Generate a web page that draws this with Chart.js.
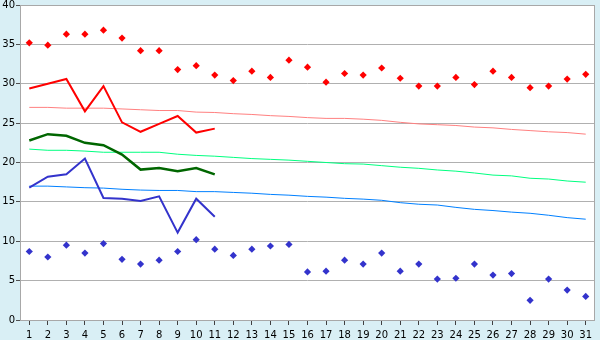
<!DOCTYPE html>
<html>
<head>
<meta charset="utf-8">
<script src="https://cdn.jsdelivr.net/npm/chart.js@4.4.1/dist/chart.umd.min.js"></script>
<style>
  html, body { margin: 0; padding: 0; background: #d9eff5; }
  canvas { display: block; }
</style>
</head>
<body>
<canvas id="chart" width="600" height="340"></canvas>
<script>
const days = ['1','2','3','4','5','6','7','8','9','10','11','12','13','14','15','16',
              '17','18','19','20','21','22','23','24','25','26','27','28','29','30','31'];
const yTicks = [0, 5, 10, 15, 20, 25, 30, 35, 40];

// record highs / lows (diamonds)
const recordHigh = [35.2, 34.9, 36.3, 36.3, 36.8, 35.8, 34.2, 34.2, 31.8, 32.3, 31.1,
                    30.4, 31.6, 30.8, 33.0, 32.1, 30.2, 31.3, 31.1, 32.0, 30.7, 29.7,
                    29.7, 30.8, 29.9, 31.6, 30.8, 29.5, 29.7, 30.6, 31.2];
const recordLow = [8.7, 8.0, 9.5, 8.5, 9.7, 7.7, 7.1, 7.6, 8.7, 10.2, 9.0,
                   8.2, 9.0, 9.4, 9.6, 6.1, 6.2, 7.6, 7.1, 8.5, 6.2, 7.1,
                   5.2, 5.3, 7.1, 5.7, 5.9, 2.5, 5.2, 3.8, 3.0];

// this month so far
const dayMax  = [29.4, 30.0, 30.6, 26.5, 29.7, 25.1, 23.9, 24.9, 25.9, 23.8, 24.3];
const dayMean = [22.8, 23.6, 23.4, 22.5, 22.2, 21.0, 19.1, 19.3, 18.9, 19.3, 18.5];
const dayMin  = [16.8, 18.2, 18.5, 20.5, 15.5, 15.4, 15.1, 15.7, 11.1, 15.4, 13.1];

// normals
const normalMax = [27.0, 27.0, 26.9, 26.9, 26.9, 26.8, 26.7, 26.6, 26.6, 26.4, 26.35,
                   26.2, 26.1, 25.95, 25.85, 25.7, 25.6, 25.6, 25.5, 25.35, 25.1, 24.9,
                   24.8, 24.7, 24.5, 24.4, 24.2, 24.05, 23.9, 23.8, 23.6];
const normalMean = [21.7, 21.55, 21.55, 21.45, 21.3, 21.3, 21.3, 21.3, 21.05, 20.9, 20.8,
                    20.65, 20.5, 20.4, 20.3, 20.15, 20.0, 19.85, 19.8, 19.6, 19.4, 19.26,
                    19.05, 18.9, 18.67, 18.4, 18.3, 18.0, 17.9, 17.65, 17.5];
const normalMin = [17.0, 17.0, 16.9, 16.8, 16.75, 16.6, 16.5, 16.45, 16.45, 16.3, 16.3,
                   16.2, 16.1, 15.95, 15.85, 15.7, 15.6, 15.45, 15.35, 15.2, 14.9, 14.7,
                   14.6, 14.3, 14.05, 13.9, 13.7, 13.55, 13.3, 13.0, 12.8];

const bgPlugin = {
    id: 'bg',
    beforeDraw(chart) {
        const { ctx, chartArea: a } = chart;
        ctx.save();
        ctx.fillStyle = '#d9eff5';
        ctx.fillRect(0, 0, chart.width, chart.height);
        ctx.fillStyle = '#ffffff';
        ctx.fillRect(a.left, a.top, a.right - a.left, a.bottom - a.top);
        ctx.restore();
    },
    beforeDatasetsDraw(chart) {
        const { ctx, chartArea: a } = chart;
        ctx.save();
        ctx.strokeStyle = '#a8a8a8';
        ctx.lineWidth = 1;
        ctx.strokeRect(a.left + 0.5, a.top + 0.5, a.right - a.left - 1, a.bottom - a.top);
        ctx.restore();
    }
};

function lineSet(data, color, width) {
    return { type: 'line', data, borderColor: color, borderWidth: width,
             pointRadius: 0, tension: 0, fill: false };
}
function dotSet(data, color) {
    return { type: 'line', data, showLine: false, pointStyle: 'rectRot', pointRadius: 3.6,
             pointBackgroundColor: color, pointBorderColor: color, pointBorderWidth: 0 };
}

Chart.defaults.font.family = '"DejaVu Sans", Verdana, sans-serif';
Chart.defaults.font.size = 10;
Chart.defaults.color = '#000000';

new Chart(document.getElementById('chart').getContext('2d'), {
    type: 'line',
    data: {
        labels: days,
        datasets: [
            lineSet(dayMax, '#ff0000', 2),
            lineSet(dayMean, '#006600', 2.5),
            lineSet(dayMin, '#3333cc', 2),
            dotSet(recordHigh, '#ff0000'),
            dotSet(recordLow, '#3333cc'),
            lineSet(normalMax, '#ff8080', 1),
            lineSet(normalMean, '#00ff80', 1),
            lineSet(normalMin, '#0080ff', 1)
        ]
    },
    options: {
        responsive: false,
        devicePixelRatio: 1,
        animation: false,
        layout: { padding: { top: 5, right: 5, left: 0, bottom: 0 } },
        plugins: { legend: { display: false }, tooltip: { enabled: false } },
        scales: {
            x: {
                offset: true,
                grid: { display: true, drawOnChartArea: false, tickLength: 5, tickColor: '#404040' },
                border: { display: false },
                ticks: { autoSkip: false, maxRotation: 0, padding: 4 },
                afterFit(s) { s.height = 20; s.paddingLeft = 0; s.paddingRight = 0; }
            },
            y: {
                min: 0, max: 40,
                afterBuildTicks(s) { s.ticks = yTicks.map(v => ({ value: v })); },
                grid: { color: '#b0b0b0', tickLength: 4, tickColor: '#505050' },
                border: { display: false },
                ticks: { padding: 1 },
                afterFit(s) { s.width = 20; s.paddingTop = 0; s.paddingBottom = 0; }
            }
        }
    },
    plugins: [bgPlugin]
});
</script>
</body>
</html>
